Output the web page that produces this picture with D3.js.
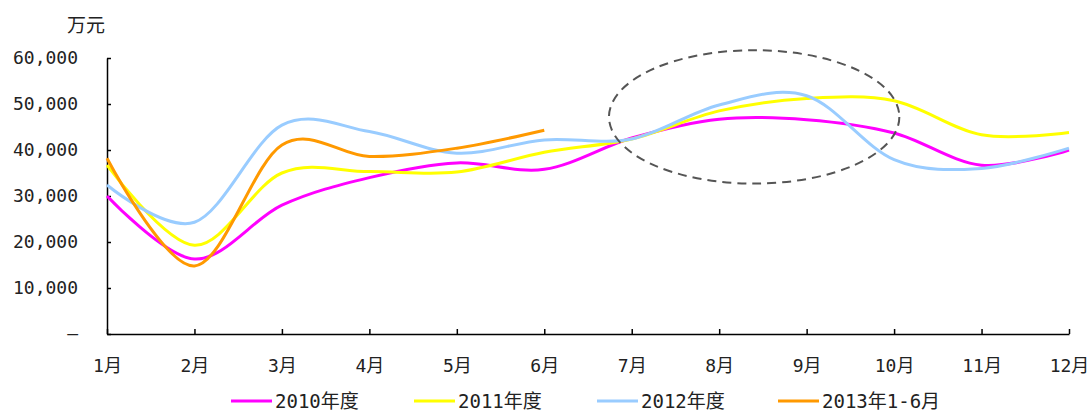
<!DOCTYPE html>
<html>
<head>
<meta charset="utf-8">
<script src="https://cdn.jsdelivr.net/npm/d3@7"></script>
<style>
  body { margin: 0; background: #fff; }
  text { font-family: "DejaVu Sans Mono", "Noto Sans CJK SC", sans-serif; fill: #222; }
</style>
</head>
<body>
<div id="canvas"></div>
<script>
// data
const months = ["1月", "2月", "3月", "4月", "5月", "6月", "7月", "8月", "9月", "10月", "11月", "12月"];
const s2010 = [30000, 16300, 28000, 34000, 37200, 35800, 42600, 46700, 46600, 43700, 36700, 40000];
const s2011 = [36700, 19300, 35000, 35300, 35200, 39500, 42400, 48500, 51200, 50700, 43300, 43800];
const s2012 = [32400, 24300, 45400, 44000, 39300, 42200, 42400, 49800, 51800, 37900, 36000, 40400];
const s2013 = [38200, 14800, 41100, 38600, 40400, 44300];
const seriesNames = ["2010年度", "2011年度", "2012年度", "2013年1-6月"];
const seriesColors = ["#ff00ff", "#ffff00", "#99ccff", "#ff9900"];
const yTicks = [0, 10000, 20000, 30000, 40000, 50000, 60000];
const unitLabel = "万元";

const width = 1091;
const height = 412;

const svg = d3.select("#canvas").append("svg")
    .attr("width", width)
    .attr("height", height);

svg.append("rect").attr("width", width).attr("height", height).attr("fill", "#fff");

const x = d3.scalePoint()
    .domain(months)
    .range([107, 1069]);

const y = d3.scaleLinear()
    .domain([0, 60000])
    .range([334, 58]);

const fmt = d3.format(",");

// y axis
const yAxis = svg.append("g")
    .attr("transform", "translate(107,0)")
    .call(d3.axisLeft(y)
        .tickValues(yTicks)
        .tickSizeInner(-4)
        .tickSizeOuter(0)
        .tickPadding(29)
        .tickFormat(d => d === 0 ? "–" : fmt(d)));

// x axis
const xAxis = svg.append("g")
    .attr("transform", "translate(0,334)")
    .call(d3.axisBottom(x)
        .tickSizeInner(-5)
        .tickSizeOuter(0)
        .tickPadding(25));

[yAxis, xAxis].forEach(a => {
    a.select(".domain").attr("stroke", "#000").attr("stroke-width", 1.5);
    a.selectAll(".tick line").attr("stroke", "#000").attr("stroke-width", 1.5);
    a.selectAll(".tick text").attr("font-size", 18).attr("fill", "#222")
        .style("font-family", '"DejaVu Sans Mono", "Noto Sans CJK SC", sans-serif');
});

svg.append("text")
    .attr("x", 86)
    .attr("y", 32)
    .attr("text-anchor", "middle")
    .attr("font-size", 19)
    .text(unitLabel);

// lines
const allSeries = [s2010, s2011, s2012, s2013];

const line = d3.line()
    .x((d, i) => x(months[i]))
    .y(d => y(d))
    .curve(d3.curveCardinal.tension(0));

svg.selectAll("path.series").data(allSeries)
    .enter().append("path")
    .attr("class", "series")
    .attr("d", d => line(d))
    .attr("fill", "none")
    .attr("stroke", (d, i) => seriesColors[i])
    .attr("stroke-width", 3);

// dashed ellipse highlight
svg.append("ellipse")
    .attr("cx", x("8月") + (x("9月") - x("8月")) * 0.4)
    .attr("cy", y(47200))
    .attr("rx", (x("9月") - x("8月")) * 1.66)
    .attr("ry", y(47200) - y(61700))
    .attr("fill", "none")
    .attr("stroke", "#555")
    .attr("stroke-width", 2)
    .attr("stroke-dasharray", "9,6");

// legend
const legendX = [231, 414, 597, 778];
const legend = svg.selectAll("g.legend").data(seriesNames)
    .enter().append("g")
    .attr("class", "legend")
    .attr("transform", (d, i) => `translate(${legendX[i]},401)`);

legend.append("line")
    .attr("x1", 0).attr("x2", 41)
    .attr("stroke", (d, i) => seriesColors[i])
    .attr("stroke-width", 3);

legend.append("text")
    .attr("x", 44)
    .attr("dy", "0.35em")
    .attr("font-size", 19)
    .text(d => d);
</script>
</body>
</html>
